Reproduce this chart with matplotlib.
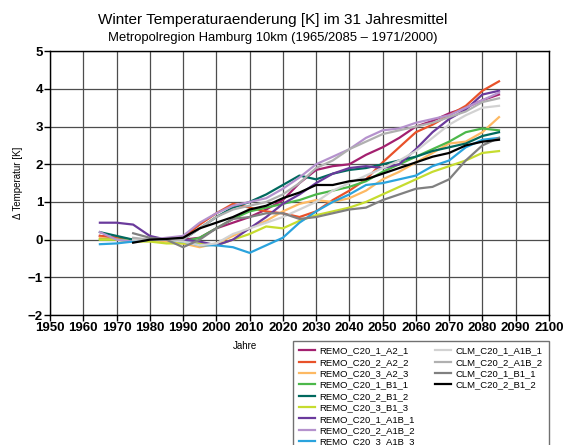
import numpy as np
import matplotlib
matplotlib.use("Agg")
import matplotlib.pyplot as plt
from matplotlib.lines import Line2D

plt.rcParams['font.family'] = ['Liberation Sans', 'DejaVu Sans']

# years of the 31-year running means
years_remo = np.arange(1965, 2086, 5)
years_clm = np.arange(1975, 2086, 5)

# REMO runs (1965..2085, every 5 years)
remo_1_a2_1 = [0.10, 0.05, 0.00, 0.00, 0.00, 0.00, 0.05, 0.30, 0.45, 0.60, 0.80, 1.05, 1.50,
               1.85, 1.95, 2.00, 2.25, 2.45, 2.70, 3.00, 3.15, 3.35, 3.50, 3.70, 3.85]
remo_2_a2_2 = [0.10, 0.05, 0.00, 0.00, 0.00, 0.05, 0.40, 0.70, 0.95, 0.85, 0.75, 0.70, 0.60,
               0.75, 1.05, 1.30, 1.60, 2.05, 2.45, 2.85, 3.05, 3.30, 3.55, 3.95, 4.20]
remo_3_a2_3 = [0.05, 0.00, -0.05, 0.00, -0.05, -0.10, -0.20, -0.10, 0.10, 0.30, 0.50, 0.75, 0.95,
               1.05, 1.00, 1.10, 1.30, 1.60, 1.80, 2.05, 2.30, 2.55, 2.60, 2.85, 3.25]
remo_1_b1_1 = [0.00, 0.00, 0.00, 0.00, 0.00, -0.05, 0.05, 0.30, 0.55, 0.75, 0.85, 0.95, 1.05,
               1.20, 1.30, 1.40, 1.55, 1.80, 2.00, 2.20, 2.40, 2.60, 2.85, 2.95, 2.90]
remo_2_b1_2 = [0.20, 0.10, 0.00, 0.00, 0.00, 0.00, 0.30, 0.60, 0.85, 1.00, 1.20, 1.45, 1.70,
               1.60, 1.75, 1.85, 1.90, 2.00, 2.10, 2.20, 2.35, 2.45, 2.55, 2.75, 2.85]
remo_3_b1_3 = [0.00, 0.00, -0.05, -0.05, -0.10, -0.10, -0.10, -0.15, 0.00, 0.15, 0.35, 0.30, 0.50,
               0.65, 0.75, 0.85, 1.00, 1.20, 1.40, 1.60, 1.80, 1.95, 2.10, 2.30, 2.35]
remo_1_a1b_1 = [0.45, 0.45, 0.40, 0.10, 0.00, 0.00, -0.05, -0.15, 0.00, 0.30, 0.60, 0.95, 1.20,
                1.50, 1.75, 1.90, 1.95, 1.90, 2.00, 2.40, 2.85, 3.20, 3.45, 3.85, 3.95]
remo_2_a1b_2 = [0.20, 0.00, -0.05, 0.00, 0.05, 0.10, 0.45, 0.70, 0.90, 1.00, 1.10, 1.35, 1.65,
                2.00, 2.20, 2.40, 2.70, 2.90, 2.95, 3.10, 3.20, 3.30, 3.50, 3.70, 3.90]
remo_3_a1b_3 = [-0.12, -0.10, -0.05, 0.00, 0.00, -0.05, -0.15, -0.15, -0.20, -0.35, -0.15, 0.05, 0.45,
                0.75, 1.00, 1.20, 1.45, 1.50, 1.60, 1.70, 1.95, 2.10, 2.45, 2.65, 2.70]

# CLM runs (1975..2085, every 5 years)
clm_1_a1b_1 = [0.00, 0.00, 0.00, -0.05, -0.15, -0.10, 0.15, 0.30, 0.45, 0.60, 0.80, 1.00,
               1.30, 1.50, 1.70, 1.90, 2.10, 2.35, 2.70, 3.05, 3.30, 3.50, 3.55]
clm_2_a1b_2 = [0.05, 0.00, 0.00, 0.00, 0.30, 0.60, 0.80, 0.90, 1.00, 1.20, 1.50, 1.90,
               2.10, 2.40, 2.60, 2.80, 2.90, 3.00, 3.10, 3.25, 3.40, 3.65, 3.75]
clm_1_b1_1 = [0.17, 0.05, 0.00, -0.20, 0.00, 0.30, 0.55, 0.60, 0.70, 0.70, 0.55, 0.60,
              0.70, 0.80, 0.85, 1.05, 1.20, 1.35, 1.40, 1.60, 2.10, 2.50, 2.70]
clm_2_b1_2 = [-0.08, 0.00, 0.02, 0.05, 0.30, 0.45, 0.60, 0.80, 0.90, 1.10, 1.25, 1.45,
              1.45, 1.55, 1.60, 1.75, 1.90, 2.05, 2.20, 2.30, 2.50, 2.60, 2.65]

remo_names = ["REMO_C20_1_A2_1", "REMO_C20_2_A2_2", "REMO_C20_3_A2_3",
              "REMO_C20_1_B1_1", "REMO_C20_2_B1_2", "REMO_C20_3_B1_3",
              "REMO_C20_1_A1B_1", "REMO_C20_2_A1B_2", "REMO_C20_3_A1B_3"]
clm_names = ["CLM_C20_1_A1B_1", "CLM_C20_2_A1B_2", "CLM_C20_1_B1_1", "CLM_C20_2_B1_2"]

remo_colors = ["#a3206f", "#e8522a", "#fdb963", "#4cb84a", "#00695e",
               "#c6dc2f", "#6a3a9c", "#b592cd", "#2aa3dd"]
clm_colors = ["#d2d2d2", "#b0b0b0", "#808080", "#000000"]

remo_data = [remo_1_a2_1, remo_2_a2_2, remo_3_a2_3, remo_1_b1_1, remo_2_b1_2,
             remo_3_b1_3, remo_1_a1b_1, remo_2_a1b_2, remo_3_a1b_3]
clm_data = [clm_1_a1b_1, clm_2_a1b_2, clm_1_b1_1, clm_2_b1_2]

fig = plt.figure(figsize=(5.65, 4.45), dpi=100)
ax = fig.add_axes([0.0885, 0.292, 0.883, 0.593])

handles = []
for name, col, vals in zip(remo_names, remo_colors, remo_data):
    h, = ax.plot(years_remo, vals, color=col, lw=1.6, label=name)
    handles.append(h)
for name, col, vals in zip(clm_names, clm_colors, clm_data):
    h, = ax.plot(years_clm, vals, color=col, lw=1.6, label=name)
    handles.append(h)

ax.set_xlim(1950, 2100)
ax.set_ylim(-2, 5)
ax.set_xticks(np.arange(1950, 2101, 10))
ax.set_yticks(np.arange(-2, 6, 1))
ax.set_yticklabels(["\u22122", "\u22121", "0", "1", "2", "3", "4", "5"])
ax.grid(True, color="0.3", lw=0.9)
ax.set_axisbelow(True)
ax.tick_params(direction="out", length=4, width=1, labelsize=9.5, pad=1)
for lab in ax.get_xticklabels() + ax.get_yticklabels():
    lab.set_fontweight("bold")
for sp in ax.spines.values():
    sp.set_linewidth(1.0)

fig.text(0.482, 0.955, "Winter Temperaturaenderung [K] im 31 Jahresmittel",
         ha="center", va="center", fontsize=11)
fig.text(0.482, 0.915, "Metropolregion Hamburg 10km (1965/2085 \u2013 1971/2000)",
         ha="center", va="center", fontsize=9.4)
fig.text(0.434, 0.222, "Jahre", ha="center", va="center", fontsize=7)
fig.text(0.032, 0.59, "\u0394 Temperatur [K]", ha="center", va="center",
         rotation=90, fontsize=7)

# pad the second column so the legend fills 9 + 4 like the original
blank = [Line2D([], [], color="none") for _ in range(5)]
leg_handles = handles + blank
leg_labels = remo_names + clm_names + [""] * 5
leg = fig.legend(leg_handles, leg_labels, loc="upper left", bbox_to_anchor=(0.519, 0.234),
                 ncol=2, fontsize=6.8, frameon=True, fancybox=False,
                 edgecolor="0.3", handlelength=1.7, handletextpad=0.5,
                 labelspacing=0.25, columnspacing=2.1, borderaxespad=0.0,
                 borderpad=0.6)
leg.get_frame().set_linewidth(1.0)

fig.savefig("out.png", dpi=100)
